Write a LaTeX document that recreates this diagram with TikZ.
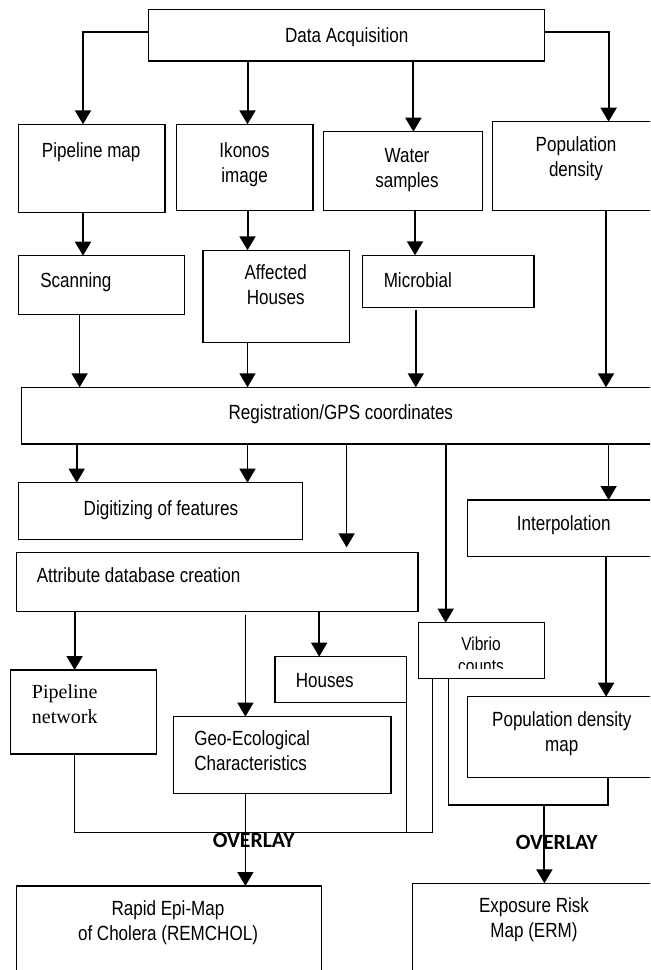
\documentclass[tikz,border=0pt]{standalone}
\usepackage{fontspec}
\setmainfont{Liberation Sans}[FakeStretch=0.83]
\newfontfamily\pnserif{Liberation Serif}
\newfontfamily\ovfont{Carlito}
\usetikzlibrary{arrows.meta}
\newcommand{\mybox}[5]{\node[bx, minimum width={(#4-(#2))*0.75pt}, minimum height={(#5-(#3))*0.75pt}] (#1) at ({(#2+#4)/2},{(#3+#5)/2}) {};}
\begin{document}
\begin{tikzpicture}[x=0.75pt,y=-0.75pt,
  bx/.style={draw, line width=1pt, inner sep=0pt, outer sep=0pt},
  txt/.style={font=\fontsize{15.4}{18.75}\selectfont, inner sep=0pt, align=center,
    execute at begin node=\strut, execute at end node=\strut},
  txtl/.style={txt, align=left, anchor=west},
  sertxt/.style={font=\pnserif\fontsize{15}{18.75}\selectfont, inner sep=0pt, align=left, anchor=west,
    execute at begin node=\strut, execute at end node=\strut},
  ovtxt/.style={font=\ovfont\bfseries\fontsize{16.3}{19}\selectfont, inner sep=0pt, anchor=base},
  arrT/.style={line width=1.5pt, -{Triangle[width=12pt,length=10.5pt]}},
  arrN/.style={line width=1.2pt, -{Triangle[width=12pt,length=10.5pt]}},
  ln/.style={line width=1.2pt}]
\useasboundingbox (0,0) rectangle (650,970);
\clip (0,0) rectangle (650,970);

% boxes
\mybox{da}{148.4}{9.3}{544.4}{61}
\mybox{pm}{18.7}{124.3}{165}{212.3}
\mybox{ik}{176.2}{124.3}{313}{210.7}
\mybox{ws}{323.8}{131.7}{482.2}{210.7}
\mybox{pd}{492.5}{121.7}{660}{210.7}
\mybox{sc}{18.7}{255.7}{184.5}{314.7}
\mybox{ah}{203}{250.3}{349.5}{342.7}
\mybox{mi}{362.8}{255.3}{534}{307.3}
\mybox{rg}{21.6}{387.3}{660}{444}
\mybox{dg}{18.7}{482.7}{302.6}{539.3}
\mybox{at}{16.6}{552.7}{418}{611.7}
\mybox{vb}{418.5}{622.7}{544.4}{678.7}
\mybox{ip}{467.7}{500}{660}{556.7}
\mybox{ho}{274.9}{656.7}{406.3}{702.7}
\mybox{pn}{10.4}{670}{156.7}{754}
\mybox{ge}{173.3}{716.7}{391}{793.3}
\mybox{pdm}{467.7}{696.7}{660}{777.3}
\mybox{re}{16.6}{886}{321.7}{990}
\mybox{er}{412.5}{883.3}{660}{990}

% texts
\node[txt] (tda) at (346.7,37.3) {Data Acquisition};
\node[txt] (tpm) at (91.2,152.3) {Pipeline map};
\node[txt] (tik) at (244.6,166.5) {Ikonos\\image};
\node[txt] (tws) at (407,171.5) {Water\\samples};
\node[txt] (tpd) at (576,160) {Population\\density};
\node[txtl] (tsc) at (40,282.3) {Scanning};
\node[txt] (tah) at (275.7,288.3) {Affected\\Houses};
\node[txtl] (tmi) at (383.5,282.3) {Microbial};
\node[txt] (trg) at (340.8,414) {Registration/GPS coordinates};
\node[txt] (tdg) at (160.9,510) {Digitizing of features};
\node[txt] (tip) at (563.8,525.6) {Interpolation};
\node[txtl] (tat) at (36.5,577.3) {Attribute database creation};
\node[txt, font=\fontsize{14}{16}\selectfont, anchor=base, execute at begin node={}, execute at end node={}] (tvb) at (481,650.7) {Vibrio};
\begin{scope}
\clip (418.5,622.7) rectangle (544.4,668.3);
\node[txt, font=\fontsize{14}{16}\selectfont, anchor=base, execute at begin node={}, execute at end node={}] (tvc) at (481,672) {counts};
\end{scope}
\node[txtl] (tho) at (295.6,682.3) {Houses};
\node[sertxt] (tpn) at (31.7,707.7) {Pipeline\\network};
\node[txtl] (tge) at (194,754.8) {Geo-Ecological\\Characteristics};
\node[txt] (tpdm) at (561.8,735.8) {Population density\\map};
\node[txt] (tre) at (168,924) {Rapid Epi-Map\\of Cholera (REMCHOL)};
\node[txt] (ter) at (534,921.5) {Exposure Risk\\Map (ERM)};

% connectors, upper part
\draw[arrT] (da.west |- 0,31.7) -| (83,0 |- pm.north);
\draw[arrT] (247.5,0 |- da.south) -- (247.5,0 |- ik.north);
\draw[arrT] (413.4,0 |- da.south) -- (413.4,0 |- ws.north);
\draw[arrT] (da.east |- 0,31.7) -| (608.6,0 |- pd.north);
\draw[arrT] (83,0 |- pm.south) -- (83,0 |- sc.north);
\draw[arrT] (247.5,0 |- ik.south) -- (247.5,0 |- ah.north);
\draw[arrT] (415,0 |- ws.south) -- (415,0 |- mi.north);
\draw[arrT] (606,0 |- pd.south) -- (606,0 |- rg.north);
\draw[arrN] (79.6,0 |- sc.south) -- (79.6,0 |- rg.north);
\draw[arrN] (247.5,0 |- ah.south) -- (247.5,0 |- rg.north);
\draw[arrN, shorten <=2pt] (415.8,0 |- mi.south) -- (415.8,0 |- rg.north);

% connectors, middle part
\draw[arrN] (76.7,0 |- rg.south) -- (76.7,0 |- dg.north);
\draw[arrN] (247.5,0 |- rg.south) -- (247.5,0 |- dg.north);
\draw[arrN, shorten >=4pt] (346.6,0 |- rg.south) -- (346.6,0 |- at.north);
\draw[arrN] (445.7,0 |- rg.south) -- (445.7,0 |- vb.north);
\draw[arrN] (608.6,0 |- rg.south) -- (608.6,0 |- ip.north);
\draw[arrT] (74.6,0 |- at.south) -- (74.6,0 |- pn.north);
\draw[arrN, shorten <=2.5pt] (245.4,0 |- at.south) -- (245.4,0 |- ge.north);
\draw[arrN] (319.2,0 |- at.south) -- (319.2,0 |- ho.north);
\draw[arrT] (606.1,0 |- ip.south) -- (606.1,0 |- pdm.north);

% overlay merges
\coordinate (m1) at (432.4,832.3);
\coordinate (m2) at (607.8,805);
\coordinate (m3) at (544.4,805);
\draw[ln] (74.6,0 |- pn.south) |- (m1) -- (m1 |- vb.south);
\draw[ln] (ho.south east) -- (ho.south east |- m1);
\draw[ln] (448.6,0 |- vb.south) |- (m2) -- (m2 |- pdm.south);
\draw[arrN] (245.4,0 |- ge.south) -- (245.4,0 |- re.north);
\draw[arrT] (m3) -- (m3 |- er.north);

\node[ovtxt] (ov1) at (253.7,847) {OVERLAY};
\node[ovtxt] (ov2) at (556.8,849.7) {OVERLAY};
\end{tikzpicture}
\end{document}
